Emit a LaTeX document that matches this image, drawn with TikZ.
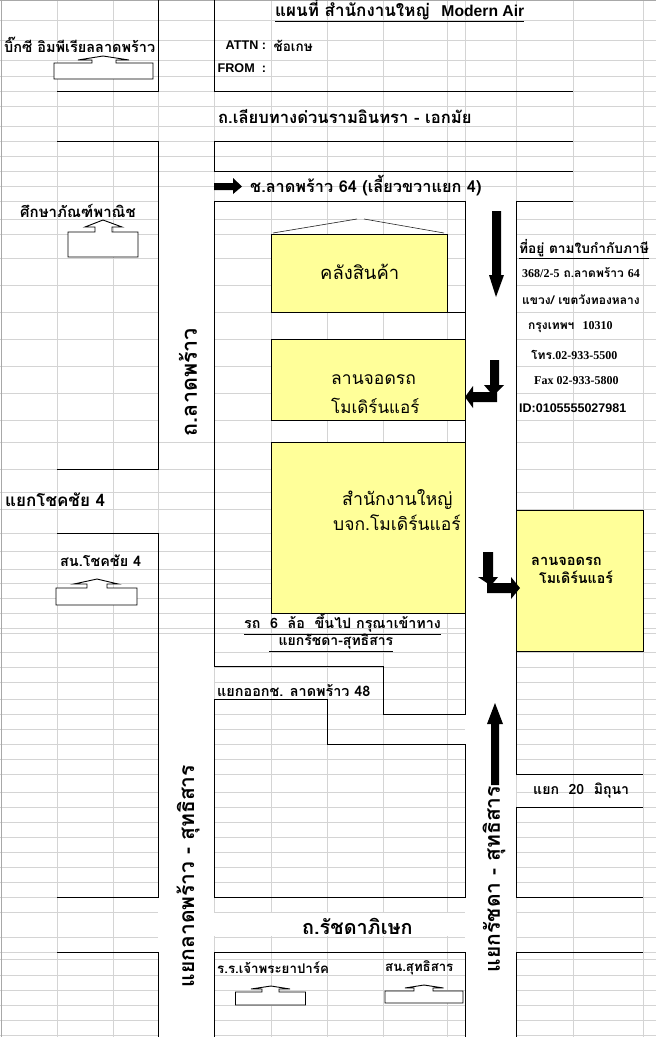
\documentclass[tikz,border=0pt]{standalone}
\usepackage{fontspec}
\setmainfont{Liberation Sans}
\newfontfamily\thf[Script=Thai]{Loma}
\newfontfamily\lat{Liberation Sans}
\newfontfamily\ser{Liberation Serif}
\newcommand{\fs}[1]{\fontsize{#1}{#1}\selectfont}
\definecolor{gridc}{HTML}{D4D4D4}
\definecolor{gridd}{HTML}{A8A8A8}
\definecolor{lemon}{HTML}{FFFF99}
\tikzset{
  wall/.style={draw=black,line width=1pt},
  roofline/.style={draw=black!85,line width=.6pt},
  building/.style={draw=black,fill=lemon,line width=1pt},
  shop/.style={draw=black,fill=white,line width=.9pt,line join=miter},
  blackarrow/.style={fill=black,draw=none},
  lab/.style={inner sep=0pt,anchor=west,font=\thf\bfseries\fs{14.5}},
  plain/.style={inner sep=0pt,anchor=west,font=\thf\fs{17.5}},
  vert/.style={inner sep=0pt,rotate=90,font=\thf\bfseries\fs{21}},
}
\begin{document}
\begin{tikzpicture}[x=1pt,y=-1pt]
\useasboundingbox (0,0) rectangle (656,1037);
\fill[white] (0,0) rectangle (656,1037);
% sheet grid
\foreach \r in {20.5,40.5,60.5,76,91,106,126.5,141,156.5,171,186.5,201,219,234,258,285,312,339.5,366,393,420,442,469,492,509,533,551,569,583,598,613,628,633,652,667,682,699,714,729,744,759,774,792,807,822,837,852,867,882,897,912,937,952,959,975,990,1005,1020,1035}
  \draw[gridc,line width=.9pt] (0,\r) -- (656,\r);
\foreach \c in {57,113,158,214,271,327,383,447,465,516,573,643}
  \draw[gridc,line width=.9pt] (\c,0) -- (\c,1037);
\draw[gridd,line width=1.2pt] (1.5,0) -- (1.5,1037);
\draw[gridd,line width=.9pt] (0,.5) -- (656,.5);
% cleared road areas
\fill[white] (158,201) rectangle (214,441);
\fill[white] (158,638) rectangle (214,1037);
\fill[white] (465,201) rectangle (516,1037);
\fill[white] (214,913) rectangle (465,936);
% blocks
\draw[wall] (57,91) -- (158,91) -- (158,0);
\draw[wall] (57,141) -- (158,141) -- (158,469) -- (57,469);
\draw[wall] (57,533) -- (158,533) -- (158,897) -- (57,897);
\draw[wall] (57,952) -- (158,952) -- (158,1037);
\draw[wall] (214,0) -- (214,91) -- (573,91);
\draw[wall] (573,141) -- (214,141) -- (214,171) -- (573,171);
\draw[wall] (465,201) -- (214,201) -- (214,666) -- (383,666) -- (383,714) -- (465,714) -- cycle;
\draw[wall] (573,201) -- (516,201) -- (516,774) -- (643,774);
\draw[wall] (643,807) -- (516,807) -- (516,897) -- (643,897);
\draw[wall] (214,699) -- (327,699) -- (327,744) -- (465,744) -- (465,897) -- (214,897) -- cycle;
\draw[wall] (214,1037) -- (214,952) -- (465,952) -- (465,1037);
\draw[wall] (643,952) -- (516,952) -- (516,1037);
% buildings
\draw[building] (271,234) rectangle (447,312);
\draw[wall] (447,312) -- (465,312);
\draw[building] (271,339.5) rectangle (465,420);
\draw[building] (271,442) rectangle (465,613);
\draw[building] (516,510) rectangle (643,651);
\draw[roofline] (273,233) -- (357,219);
\draw[roofline] (364,219) -- (444,233);
% small buildings
\draw[shop] (54,63) -- (92,63) -- (92,60) -- (78,60) -- (103,56) -- (129,60) -- (116,60) -- (116,63) -- (153,63) -- (153,79) -- (54,79) -- cycle;
\draw[shop] (68,232) -- (95,232) -- (95,227) -- (85,227) -- (103,220) -- (122,227) -- (112,227) -- (112,232) -- (138,232) -- (138,257) -- (68,257) -- cycle;
\draw[shop] (56,588) -- (87,588) -- (87,584) -- (74,584) -- (97,579) -- (118,584) -- (107,584) -- (107,588) -- (137,588) -- (137,605) -- (56,605) -- cycle;
\draw[shop] (235.5,992) -- (262,992) -- (262,989) -- (251,989) -- (271,986) -- (290,989) -- (279,989) -- (279,992) -- (305.5,992) -- (305.5,1005) -- (235.5,1005) -- cycle;
\draw[shop] (385,991) -- (414,991) -- (414,988) -- (405,988) -- (424,985) -- (443.5,988) -- (433,988) -- (433,991) -- (463,991) -- (463,1003) -- (385,1003) -- cycle;
% arrows
\fill[blackarrow] (214,183) -- (233,183) -- (233,178) -- (242,186.5) -- (233,194) -- (233,190) -- (214,190) -- cycle;
\fill[blackarrow] (492,211) -- (501,211) -- (501,275) -- (504,275) -- (496,297) -- (489,275) -- (492,275) -- cycle;
\fill[blackarrow] (490,360) -- (499,360) -- (499,385) -- (504,385) -- (497,392) -- (497,402) -- (473,402) -- (473,408) -- (465,397) -- (473,386) -- (473,392) -- (490,392) -- (484,385) -- (490,385) -- cycle;
\fill[blackarrow] (483,552) -- (493,552) -- (493,577) -- (498,577) -- (493,583) -- (511,583) -- (511,577) -- (520,588) -- (511,599) -- (511,593) -- (487,593) -- (487,583) -- (478,577) -- (483,577) -- cycle;
\fill[blackarrow] (495,703) -- (503,724) -- (499,724) -- (499,785) -- (491,785) -- (491,724) -- (487,724) -- cycle;
% texts
\node[lab,font=\thf\bfseries\fs{17}] (title) at (275,10) {\underline{แผนที่ สำนักงานใหญ่\ \ {\lat\fs{15.7}Modern Air}}};
\node[lab] (bigc) at (4,45) {บิ๊กซี อิมพีเรียลลาดพร้าว};
\node[lab,font=\lat\bfseries\fs{12.6}] (attn) at (225.5,45) {ATTN :};
\node[lab,font=\thf\bfseries\fs{13.5}] (attnv) at (273.5,46) {ช้อเกษ};
\node[lab,font=\lat\bfseries\fs{12.6}] (from) at (217.5,68) {FROM\ \ :};
\node[lab,font=\thf\bfseries\fs{16.6}] (expway) at (218,117) {ถ.เลียบทางด่วนรามอินทรา - เอกมัย};
\node[lab,font=\thf\bfseries\fs{16.3}] (soi) at (250,186) {ช.ลาดพร้าว 64 (เลี้ยวขวาแยก 4)};
\node[lab,font=\thf\bfseries\fs{15}] (suksa) at (20,211) {ศึกษาภัณฑ์พาณิช};
\node[plain,font=\thf\fs{18.4}] (wh) at (320,272) {คลังสินค้า};
\node[plain] (lot1) at (331,380) {ลานจอดรถ};
\node[plain,font=\thf\fs{17}] (lot2) at (331,406) {โมเดิร์นแอร์};
\node[plain,font=\thf\fs{17.8}] (hq1) at (342,500) {สำนักงานใหญ่};
\node[plain] (hq2) at (333,523) {บจก.โมเดิร์นแอร์};
\node[lab,font=\thf\bfseries\fs{14.3}] (truck1) at (244,624) {\underline{รถ\ \ 6\ \ ล้อ\ \ ขึ้นไป กรุณาเข้าทาง}};
\node[lab,font=\thf\bfseries\fs{14}] (truck2) at (269,643) {\underline{\ \ แยกรัชดา-สุทธิสาร}};
\node[lab,font=\thf\bfseries\fs{14.4}] (exit) at (217,691) {แยกออกช. ลาดพร้าว 48};
\node[lab,font=\thf\bfseries\fs{17}] (chok) at (5,500) {แยกโชคชัย 4};
\node[lab,font=\thf\bfseries\fs{14.4}] (chokst) at (60,561) {สน.โชคชัย 4};
\node[lab,font=\thf\bfseries\fs{14.6}] (rlot1) at (531,561) {ลานจอดรถ};
\node[lab,font=\thf\bfseries\fs{14.2}] (rlot2) at (539,577) {โมเดิร์นแอร์};
\node[lab,font=\thf\bfseries\fs{14.1}] (june) at (533,791) {แยก\ \ 20\ \ มิถุนา};
\node[lab,font=\thf\bfseries\fs{19.8}] (ratch) at (302,926) {ถ.รัชดาภิเษก};
\node[lab,font=\thf\bfseries\fs{13.3}] (hotel) at (217,968) {ร.ร.เจ้าพระยาปาร์ค};
\node[lab,font=\thf\bfseries\fs{13.2}] (sutst) at (385,968) {สน.สุทธิสาร};
\node[lab,font=\thf\bfseries\fs{13.7}] (ad0) at (519,249) {\underline{ที่อยู่ ตามใบกำกับภาษี}};
\node[lab,font=\thf\bfseries\fs{12}] (ad1) at (522,273) {{\ser 368/2-5} ถ.ลาดพร้าว {\ser 64}};
\node[lab,font=\thf\bfseries\fs{12}] (ad2) at (522,300) {แขวง/ เขตวังทองหลาง};
\node[lab,font=\thf\bfseries\fs{12}] (ad3) at (528,327) {กรุงเทพฯ\ \ {\ser 10310}};
\node[lab,font=\thf\bfseries\fs{12}] (ad4) at (531,355) {โทร.{\ser 02-933-5500}};
\node[lab,font=\ser\bfseries\fs{12}] (ad5) at (534,381) {Fax 02-933-5800};
\node[lab,font=\lat\bfseries\fs{12.5}] (ad6) at (519,408) {ID:0105555027981};
\node[vert,font=\thf\bfseries\fs{21.5}] (rd1) at (188,382) {ถ.ลาดพร้าว};
\node[vert] (rd2) at (188,876) {แยกลาดพร้าว - สุทธิสาร};
\node[vert] (rd3) at (494,879) {แยกรัชดา - สุทธิสาร};
\end{tikzpicture}
\end{document}
